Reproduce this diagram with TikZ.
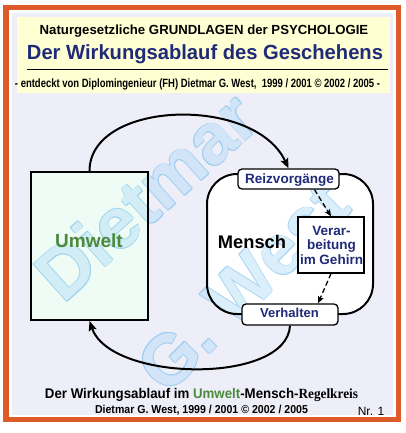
\documentclass[tikz,border=0pt]{standalone}
\usepackage{fontspec}
\usepackage{graphicx}
\setmainfont{Liberation Sans}
\newfontfamily\serifbold{Liberation Serif}
\usetikzlibrary{arrows.meta}
\definecolor{frameor}{HTML}{DD5A2B}
\definecolor{lav}{HTML}{EEEEF9}
\definecolor{banner}{HTML}{FFFFD4}
\definecolor{navy}{HTML}{1F2A78}
\definecolor{grn}{HTML}{4A8A3A}
\definecolor{mint}{HTML}{EFFCF5}
\definecolor{wmline}{HTML}{40A4E5}
\definecolor{wmfill}{HTML}{B0DCF7}
\pgfdeclarelayer{bg}
\pgfdeclarelayer{wmk}
\pgfsetlayers{bg,wmk,main}
\tikzset{
  smallbox/.style={draw=black, line width=1.3pt, fill=white, rounded corners=4pt, inner sep=0pt},
  boxtext/.style={text=navy, font=\fontsize{13.5}{14.5}\selectfont\bfseries, anchor=base},
  arc/.style={line width=2pt, -{Stealth[length=10pt,width=8pt,inset=2pt]}},
  dasharrow/.style={line width=1.3pt, dash pattern=on 5pt off 3pt, -{Stealth[length=7pt,width=6pt,inset=1.5pt]}},
  wmA/.style={font=\fontsize{72}{74}\selectfont\bfseries, rotate=42, inner sep=0pt},
  wmB/.style={font=\fontsize{71}{73}\selectfont\bfseries, rotate=45, inner sep=0pt}
}
\begin{document}
\begin{tikzpicture}[x=1pt,y=-1pt]
\useasboundingbox (0,0) rectangle (406,433);
\begin{pgfonlayer}{bg}
\fill[white] (0,0) rectangle (406,433);
\draw[frameor, line width=5.5pt] (6,7.5) rectangle (398.5,419.5);
\fill[lav] (12,13) rectangle (393,415);
\fill[banner] (17,17) rectangle (390,93);
\end{pgfonlayer}
\draw[line width=1.1pt] (27,69.5) -- (388,69.5);
% header
\node[anchor=base] (t1) at (204,35) {\fontsize{13.2}{15}\selectfont\bfseries Naturgesetzliche GRUNDLAGEN der PSYCHOLOGIE};
\node[anchor=base, text=navy] (t2) at (205,60) {\resizebox{356pt}{\height}{\fontsize{20.5}{22}\selectfont\bfseries Der Wirkungsablauf des Geschehens}};
\node[anchor=base] (t3) at (197.5,87.5) {\resizebox{365pt}{\height}{\fontsize{12}{13}\selectfont\bfseries - entdeckt von Diplomingenieur (FH) Dietmar G. West,\ \ 1999 / 2001 \textcopyright\ 2002 / 2005 -}};
% boxes (outlines on main layer, fills below the watermark)
\node[draw=black, line width=1.8pt, minimum width=117pt, minimum height=148pt, inner sep=0pt] (umwelt) at (89.5,246) {};
\node[anchor=base, text=grn, font=\fontsize{19}{20}\selectfont\bfseries] (umweltlabel) at (89,247) {Umwelt};
\node[draw=black, line width=2pt, minimum width=166pt, minimum height=140pt, rounded corners=30pt, inner sep=0pt] (mensch) at (290,244) {};
\begin{pgfonlayer}{bg}
\fill[mint] (umwelt.south west) rectangle (umwelt.north east);
\fill[white, rounded corners=30pt] (mensch.south west) rectangle (mensch.north east);
\end{pgfonlayer}
\node[anchor=base, font=\fontsize{18.3}{20}\selectfont\bfseries] (menschlabel) at (252,248) {Mensch};
\node[smallbox, minimum width=101pt, minimum height=20pt] (reiz) at (288.5,179) {};
\node[boxtext] (reizlabel) at (289.5,183) {Reizvorg\"ange};
\node[draw=black, line width=1.3pt, fill=white, minimum width=66pt, minimum height=56pt, inner sep=0pt] (verarb) at (331,245) {};
\node[boxtext] (v1) at (331.5,235) {Verar-};
\node[boxtext] (v2) at (331.5,249.5) {beitung};
\node[boxtext] (v3) at (331.5,264) {im Gehirn};
\node[smallbox, minimum width=96pt, minimum height=21pt] (verh) at (290,314.5) {};
\node[boxtext, font=\fontsize{13}{14}\selectfont\bfseries] (verhlabel) at (289.5,317) {Verhalten};
% connectors
\draw[arc] (umwelt.north) .. controls (89.5,100) and (255,95) .. (reiz.north);
\draw[arc] (verh.south) .. controls (287,385) and (110,382) .. (umwelt.south);
\draw[dasharrow] ([xshift=26pt]reiz.south) -- (verarb.north);
\draw[dasharrow] (verarb.south) -- ([xshift=28pt]verh.north);
% footer
\node[anchor=base] (f1) at (201.5,398) {\resizebox{313pt}{\height}{\fontsize{14}{15}\selectfont\bfseries Der Wirkungsablauf im \textcolor{grn}{Umwelt}-Mensch-{\serifbold Regelkreis}}};
\node[anchor=base] (f2) at (201.5,413) {\resizebox{213pt}{\height}{\fontsize{11.5}{13}\selectfont\bfseries Dietmar G. West, 1999 / 2001 \textcopyright\ 2002 / 2005}};
\node[anchor=base, font=\fontsize{12}{13}\selectfont] (nr) at (371,415) {Nr. 1};
% watermark
\begin{pgfonlayer}{wmk}
\begin{scope}[transparency group, opacity=0.45]
\foreach \dx/\dy [count=\i] in {0.75/0,-0.75/0,0/0.75,0/-0.75,0.53/0.53,-0.53/0.53,0.53/-0.53,-0.53/-0.53} {
  \node[wmA, text=wmline] (wmAo\i) at ([shift={(\dx,\dy)}]146,196) {Dietmar};
  \node[wmB, text=wmline] (wmBo\i) at ([shift={(\dx,\dy)}]243,286) {G. West};
}
\node[wmA, text=wmfill] (wm1) at (146,196) {Dietmar};
\node[wmB, text=wmfill] (wm2) at (243,286) {G. West};
\end{scope}
\end{pgfonlayer}
\end{tikzpicture}
\end{document}
